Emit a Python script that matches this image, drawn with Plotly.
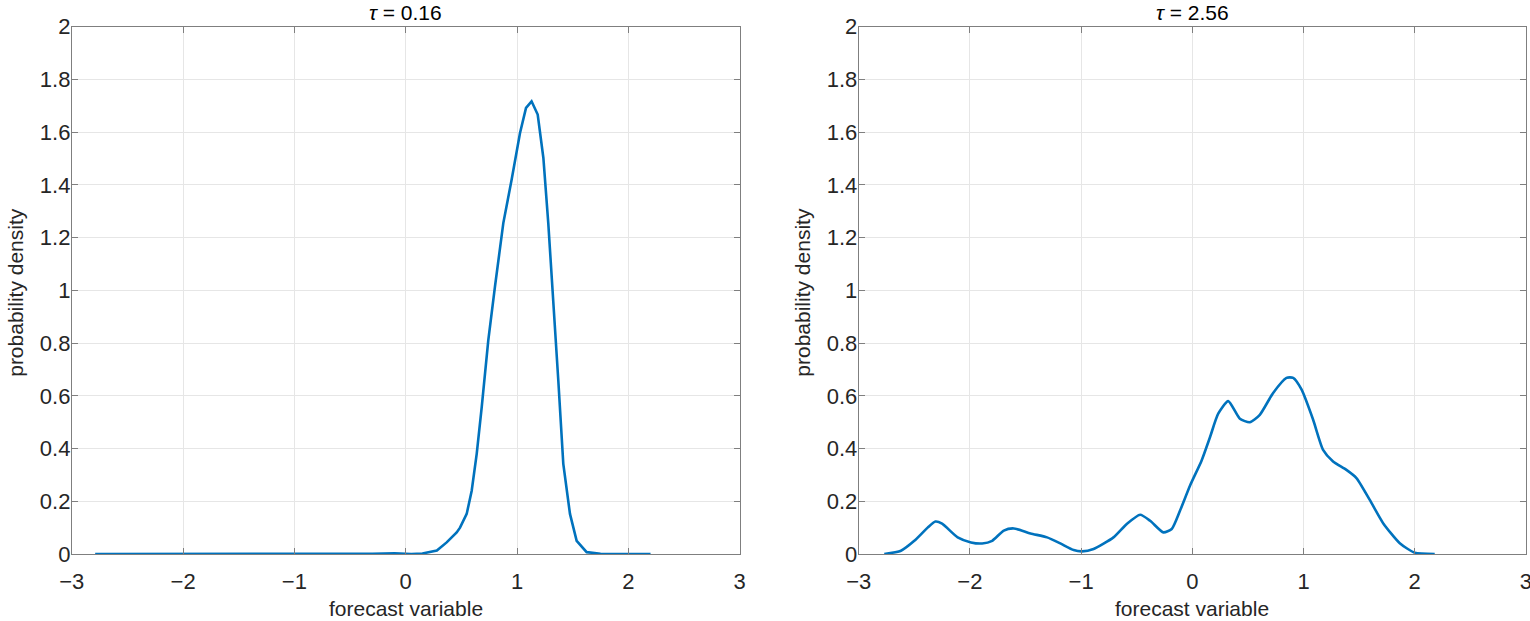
"""Two kernel density panels: forecast variable pdf at tau = 0.16 and tau = 2.56."""

import plotly.graph_objects as go

# left panel, tau = 0.16
x_tau1 = [-2.79, -2.0, -1.0, -0.3, -0.1, 0.05, 0.15, 0.28, 0.368, 0.458, 0.488,
          0.548, 0.593, 0.638, 0.683, 0.742, 0.802, 0.877, 0.952, 1.027, 1.081,
          1.131, 1.186, 1.237, 1.281, 1.326, 1.371, 1.416, 1.476, 1.536, 1.626,
          1.75, 1.87, 2.2]
pdf_tau1 = [0.0, 0.0, 0.0, 0.001, 0.003, 0.0, 0.002, 0.013, 0.044, 0.082, 0.10,
            0.152, 0.24, 0.38, 0.557, 0.81, 1.014, 1.255, 1.42, 1.597, 1.692,
            1.717, 1.667, 1.502, 1.255, 0.976, 0.659, 0.342, 0.152, 0.05, 0.007,
            0.001, 0.0, 0.0]

# right panel, tau = 2.56
x_tau2 = [-2.77, -2.62, -2.50, -2.38, -2.31, -2.25, -2.11, -1.99, -1.89, -1.80,
          -1.695, -1.605, -1.455, -1.306, -1.187, -1.067, -0.992, -0.888, -0.709,
          -0.589, -0.469, -0.379, -0.26, -0.185, -0.11, -0.02, 0.084, 0.159,
          0.233, 0.323, 0.428, 0.517, 0.607, 0.727, 0.847, 0.907, 0.982, 1.086,
          1.176, 1.266, 1.386, 1.476, 1.596, 1.716, 1.866, 2.0, 2.18]
pdf_tau2 = [0.0, 0.0125, 0.05, 0.10, 0.123, 0.115, 0.063, 0.044, 0.04, 0.05,
            0.089, 0.097, 0.078, 0.063, 0.04, 0.015, 0.01, 0.019, 0.063,
            0.114, 0.149, 0.126, 0.082, 0.095, 0.165, 0.26, 0.355, 0.443,
            0.532, 0.58, 0.513, 0.50, 0.528, 0.611, 0.668, 0.668, 0.624, 0.51,
            0.395, 0.351, 0.319, 0.288, 0.205, 0.117, 0.041, 0.005, 0.0]

titles = ["<i>τ</i> = 0.16", "<i>τ</i> = 2.56"]
x_ticks = [-3, -2, -1, 0, 1, 2, 3]
y_ticks = [0, 0.2, 0.4, 0.6, 0.8, 1, 1.2, 1.4, 1.6, 1.8, 2]

W, H = 1530, 621
line_color = "#0072BD"
font = "Liberation Sans, Arial, sans-serif"

fig = go.Figure()
fig.add_trace(go.Scatter(x=x_tau1, y=pdf_tau1, mode="lines", xaxis="x", yaxis="y",
                         line=dict(color=line_color, width=2.6), showlegend=False))
fig.add_trace(go.Scatter(x=x_tau2, y=pdf_tau2, mode="lines", xaxis="x2", yaxis="y2",
                         line=dict(color=line_color, width=2.6, shape="spline", smoothing=0.6),
                         showlegend=False))

# pixel boxes of the two panels
left_box = (71.8, 739.6)
right_box = (858.7, 1525.9)
y_box = (554.0, 26.7)

def xdom(box):
    return [box[0] / W, box[1] / W]

ydom = [(H - y_box[0]) / H, (H - y_box[1]) / H]

axis_common = dict(
    showline=True, linecolor="#7f7f7f", linewidth=1, mirror="ticks",
    ticks="inside", ticklen=6, tickcolor="#7f7f7f",
    showgrid=True, gridcolor="#e6e6e6", gridwidth=1,
    zeroline=False, automargin=False, ticklabeloverflow="allow",
    tickfont=dict(family=font, size=22, color="#262626"),
)
xaxis_style = dict(range=[-3, 3], tickvals=x_ticks, ticklabelstandoff=8, **axis_common)
yaxis_style = dict(domain=ydom, range=[0, 2], tickvals=y_ticks, ticklabelstandoff=-4, **axis_common)

fig.update_layout(
    width=W, height=H,
    margin=dict(l=0, r=0, t=0, b=0, autoexpand=False),
    paper_bgcolor="white", plot_bgcolor="white",
    font=dict(family=font, color="#262626"),
    xaxis=dict(domain=xdom(left_box), anchor="y", **xaxis_style),
    yaxis=dict(anchor="x", **yaxis_style),
    xaxis2=dict(domain=xdom(right_box), anchor="y2", **xaxis_style),
    yaxis2=dict(anchor="x2", **yaxis_style),
)

# titles and axis labels as annotations so they sit where the original has them
for box, title in zip([left_box, right_box], titles):
    cx = (box[0] + box[1]) / 2 / W
    fig.add_annotation(text=title, x=cx, y=1 - 13 / H, xref="paper", yref="paper",
                       xanchor="center", yanchor="middle", showarrow=False,
                       font=dict(family=font, size=21, color="black"))
    fig.add_annotation(text="forecast variable", x=cx, y=1 - 608 / H, xref="paper", yref="paper",
                       xanchor="center", yanchor="middle", showarrow=False,
                       font=dict(family=font, size=21, color="#262626"))
    fig.add_annotation(text="probability density", x=(box[0] - 57) / W, y=1 - 292 / H,
                       xref="paper", yref="paper", textangle=-90, xanchor="center",
                       yanchor="middle", showarrow=False,
                       font=dict(family=font, size=21, color="#262626"))

# the page body has an 8px margin by default; drop it so the figure fills the window
fig.write_html("out.html", config={"displayModeBar": False},
               post_script="document.body.style.margin = '0';")
